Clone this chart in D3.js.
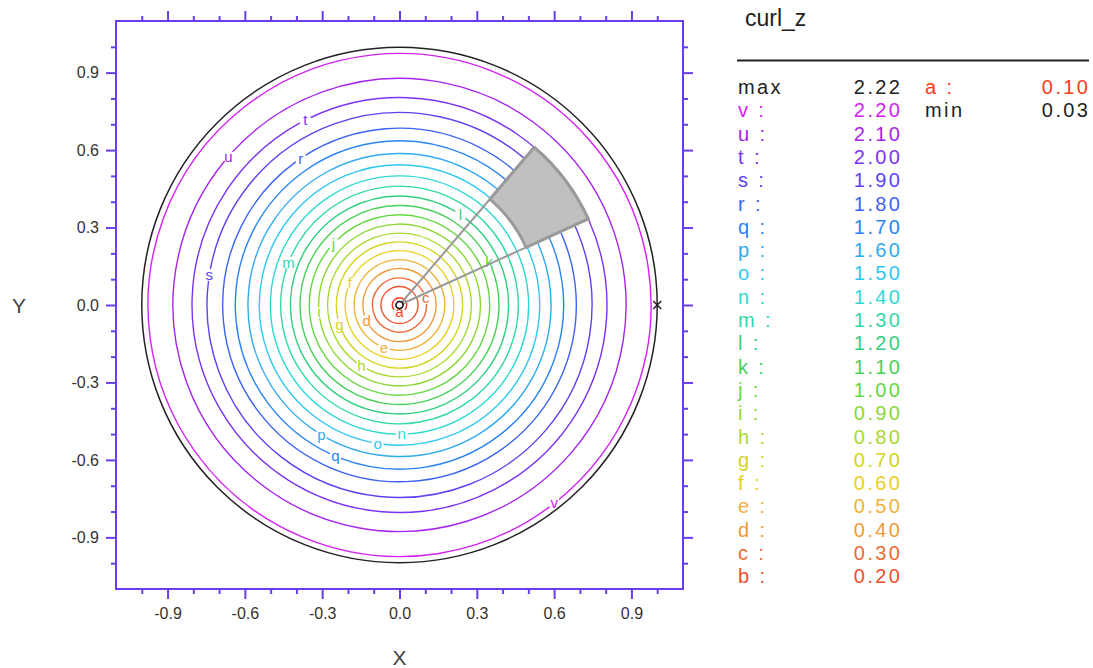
<!DOCTYPE html>
<html>
<head>
<meta charset="utf-8">
<script src="https://cdn.jsdelivr.net/npm/d3@7"></script>
<style>
  body { margin: 0; background: #fff; }
  svg { display: block; font-family: "Liberation Sans", Arial, sans-serif; }
</style>
</head>
<body>
<div id="chart"></div>
<script>
// contour levels of curl_z
const levelNames  = ["a","b","c","d","e","f","g","h","i","j","k","l","m","n","o","p","q","r","s","t","u","v"];
const levelValues = [0.10,0.20,0.30,0.40,0.50,0.60,0.70,0.80,0.90,1.00,1.10,1.20,1.30,1.40,1.50,1.60,1.70,1.80,1.90,2.00,2.10,2.20];
// radius of each contour ring
const levelRadii  = [0.028,0.072,0.105,0.142,0.176,0.211,0.245,0.279,0.314,0.350,0.386,0.423,
                     0.461,0.501,0.544,0.588,0.637,0.686,0.747,0.805,0.879,0.976];
// where the letter sits on each ring (degrees, counter-clockwise from +x), null = no label
const labelAngles = [-90,null,15,206,250,156,198,238,185,137,26,56,159,271,261,239,247,124,171,117,139,308];
const curlMax = 2.22, curlMin = 0.03;
const boundaryRadius = 1.0;

const majorTicks = [-0.9,-0.6,-0.3,0.0,0.3,0.6,0.9];
const minorTicks = [-1.0,-0.8,-0.7,-0.5,-0.4,-0.2,-0.1,0.1,0.2,0.4,0.5,0.7,0.8,1.0];

// selected sector (grey patch)
const sectorAngles = [24.5, 49.5];
const sectorRadii  = [0.54, 0.805];

const levelColors = ["#ff3a20","#f0502c","#f06a34","#f09a38","#f0b23c","#e8d020","#d4d420","#aad830",
                     "#8cd834","#64d840","#48d058","#30d080","#30d8aa","#30d8d4","#30c8f0","#30aaf0",
                     "#2a84f0","#3c64f0","#5a44f0","#7a34f0","#a624ec","#d420f4"];

const W = 1093, H = 668;
const frameColor = "#6a3cf0";

const svg = d3.select("#chart").append("svg")
  .attr("width", W).attr("height", H);

const x = d3.scaleLinear().domain([-1.1, 1.1]).range([116, 683]);
const y = d3.scaleLinear().domain([-1.1, 1.1]).range([589, 21]);
const cx = x(0), cy = y(0);
const rs = r => x(r) - x(0);

const fmt = d => d.toFixed(1);

// ---- contours
const gPlot = svg.append("g");
const rad = Math.PI / 180;

levelValues.forEach((v, i) => {
  const r = rs(levelRadii[i]);
  const ang = labelAngles[i];
  const p = d3.path();
  if (ang === null) {
    p.arc(cx, cy, r, 0, 2 * Math.PI);
  } else {
    const gap = Math.min(12 / r, 2.4);
    const a0 = -ang * rad + gap / 2;
    p.moveTo(cx + r * Math.cos(a0), cy + r * Math.sin(a0));
    p.arc(cx, cy, r, a0, a0 + 2 * Math.PI - gap);
  }
  gPlot.append("path")
    .attr("d", p.toString())
    .attr("fill", "none")
    .attr("stroke", levelColors[i])
    .attr("stroke-width", 1.4);
  if (ang !== null) {
    gPlot.append("text")
      .attr("x", cx + r * Math.cos(ang * rad))
      .attr("y", cy - r * Math.sin(ang * rad))
      .attr("dy", "0.35em")
      .attr("text-anchor", "middle")
      .attr("font-size", 15)
      .attr("fill", levelColors[i])
      .text(levelNames[i]);
  }
});

// boundary circle
gPlot.append("circle")
  .attr("cx", cx).attr("cy", cy).attr("r", rs(boundaryRadius))
  .attr("fill", "none").attr("stroke", "#222").attr("stroke-width", 1.5);

// small cross on the boundary
const bx = x(boundaryRadius), by = y(0);
gPlot.append("path")
  .attr("d", `M${bx-4},${by-4}L${bx+4},${by+4}M${bx-4},${by+4}L${bx+4},${by-4}`)
  .attr("stroke", "#222").attr("stroke-width", 1.5);

// rays + grey sector
sectorAngles.forEach(a => {
  gPlot.append("line")
    .attr("x1", cx).attr("y1", cy)
    .attr("x2", cx + rs(sectorRadii[1]) * Math.cos(a * rad))
    .attr("y2", cy - rs(sectorRadii[1]) * Math.sin(a * rad))
    .attr("stroke", "#999").attr("stroke-width", 2);
});
const arc = d3.arc()
  .innerRadius(rs(sectorRadii[0]))
  .outerRadius(rs(sectorRadii[1]))
  .startAngle((90 - sectorAngles[1]) * rad)
  .endAngle((90 - sectorAngles[0]) * rad);
gPlot.append("path")
  .attr("transform", `translate(${cx},${cy})`)
  .attr("d", arc())
  .attr("fill", "#c0c0c0")
  .attr("stroke", "#999")
  .attr("stroke-width", 3)
  .attr("stroke-linejoin", "round");

// centre marker
gPlot.append("circle")
  .attr("cx", cx).attr("cy", cy).attr("r", 3.5)
  .attr("fill", "#fff").attr("stroke", "#111").attr("stroke-width", 1.6);

// ---- frame and axes
svg.append("rect")
  .attr("x", x(-1.1)).attr("y", y(1.1))
  .attr("width", x(1.1) - x(-1.1)).attr("height", y(-1.1) - y(1.1))
  .attr("fill", "none").attr("stroke", frameColor).attr("stroke-width", 2);

function addAxis(axisFn, scale, transform, ticks, size, labels) {
  const ax = axisFn(scale).tickValues(ticks).tickSize(size).tickSizeOuter(0);
  if (labels) ax.tickFormat(fmt).tickPadding(axisFn === d3.axisBottom ? 9 : 7);
  else ax.tickFormat("");
  const g = svg.append("g").attr("transform", transform).call(ax);
  g.select(".domain").remove();
  g.selectAll(".tick line").attr("stroke", frameColor).attr("stroke-width", 2);
  g.selectAll(".tick text").attr("fill", "#333").attr("font-size", 16)
    .attr("font-family", "Liberation Sans, Arial, sans-serif");
}
const bottomT = `translate(0,${y(-1.1)})`, topT = `translate(0,${y(1.1)})`;
const leftT = `translate(${x(-1.1)},0)`, rightT = `translate(${x(1.1)},0)`;
addAxis(d3.axisBottom, x, bottomT, majorTicks, 10, true);
addAxis(d3.axisBottom, x, bottomT, minorTicks, 5, false);
addAxis(d3.axisTop, x, topT, majorTicks, 10, false);
addAxis(d3.axisTop, x, topT, minorTicks, 5, false);
addAxis(d3.axisLeft, y, leftT, majorTicks, 10, true);
addAxis(d3.axisLeft, y, leftT, minorTicks, 5, false);
addAxis(d3.axisRight, y, rightT, majorTicks, 10, false);
addAxis(d3.axisRight, y, rightT, minorTicks, 5, false);

svg.append("text").attr("x", cx).attr("y", 665)
  .attr("text-anchor", "middle").attr("font-size", 21).attr("fill", "#444").text("X");
svg.append("text").attr("x", 19).attr("y", cy + 8)
  .attr("text-anchor", "middle").attr("font-size", 21).attr("fill", "#444").text("Y");

// ---- legend
const ls = 2.4; // letter spacing, the legend font is drawn wide
const lg = svg.append("g").attr("font-size", 20).attr("letter-spacing", ls);
lg.append("text").attr("x", 745).attr("y", 26).attr("font-size", 23)
  .attr("letter-spacing", 0).attr("fill", "#222").text("curl_z");
lg.append("line").attr("x1", 737).attr("x2", 1089).attr("y1", 60.5).attr("y2", 60.5)
  .attr("stroke", "#222").attr("stroke-width", 2);

const rowY = i => 94 + i * 23.3;
function row(xl, xr, k, label, value, color) {
  lg.append("text").attr("x", xl).attr("y", rowY(k)).attr("fill", color).text(label);
  lg.append("text").attr("x", xr + ls).attr("y", rowY(k)).attr("text-anchor", "end")
    .attr("fill", color).text(value);
}
row(738, 900, 0, "max", curlMax.toFixed(2), "#222");
// levels b..v listed top-down in column 1, "a" in column 2
d3.range(levelValues.length - 1, 0, -1).forEach((li, k) => {
  row(738, 900, k + 1, levelNames[li] + " :", levelValues[li].toFixed(2), levelColors[li]);
});
row(925, 1088, 0, levelNames[0] + " :", levelValues[0].toFixed(2), levelColors[0]);
row(925, 1088, 1, "min", curlMin.toFixed(2), "#222");
</script>
</body>
</html>
